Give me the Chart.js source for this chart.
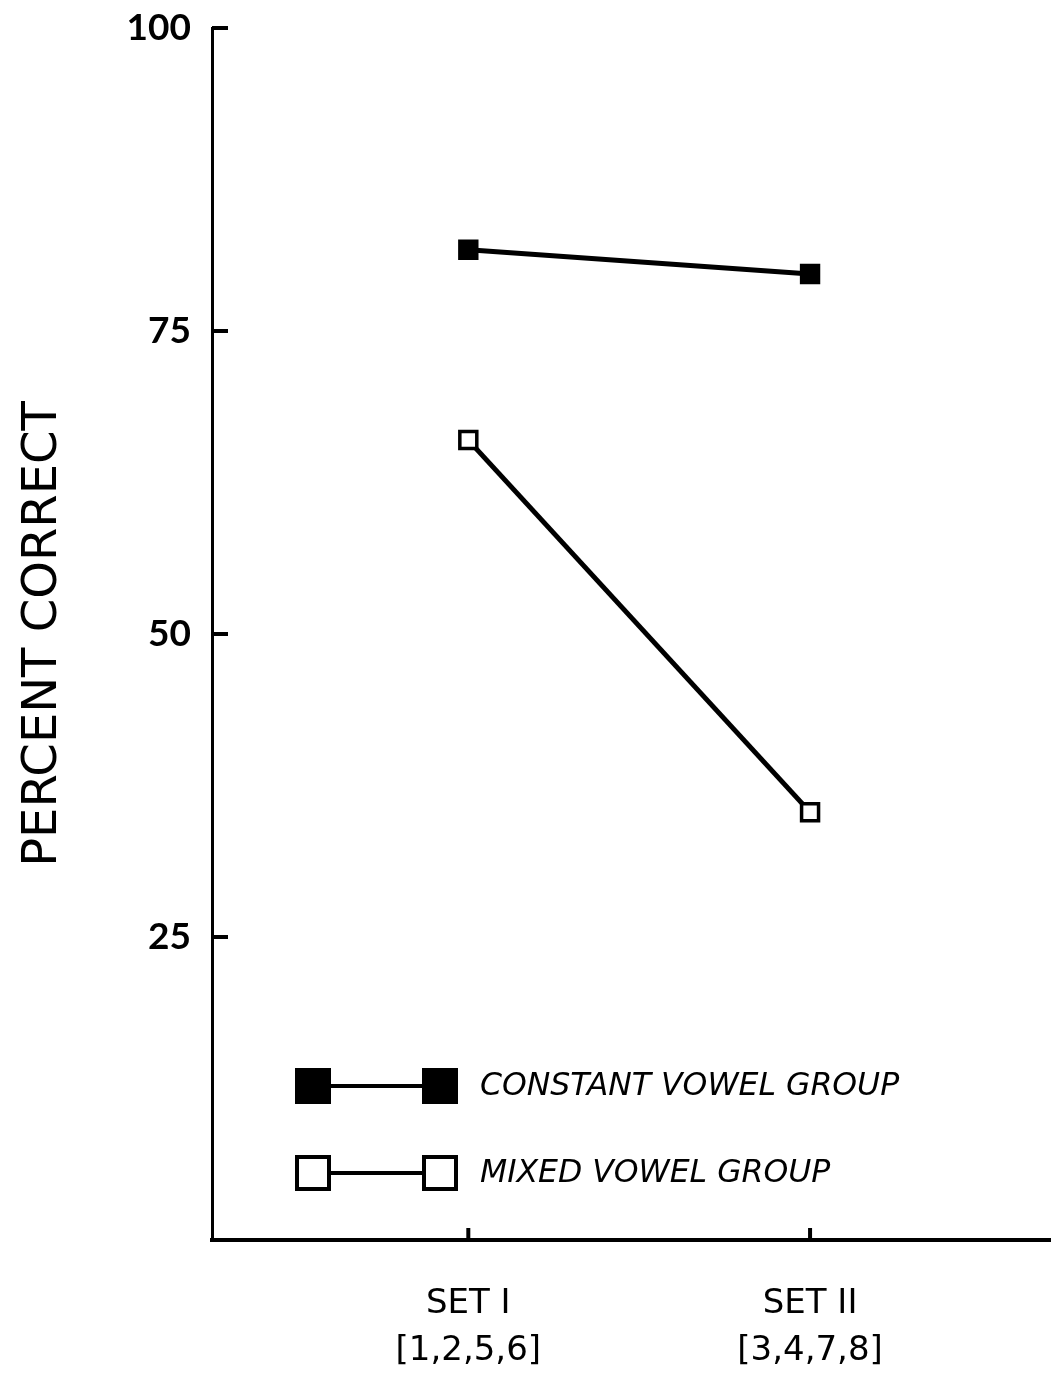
<!DOCTYPE html>
<html>
<head>
<meta charset="utf-8">
<script src="https://cdn.jsdelivr.net/npm/chart.js@4.4.1/dist/chart.umd.min.js"></script>
<style>
    html, body { margin: 0; padding: 0; background: #fff; }
</style>
</head>
<body>
<canvas id="chart" width="1051" height="1377"></canvas>
<script>
// Values
const categories = [['SET I', '[1,2,5,6]'], ['SET II', '[3,4,7,8]']];
const constantVowel = [81.7, 79.7];
const mixedVowel = [66.0, 35.3];
const yTicks = [25, 50, 75, 100];
const seriesLabels = ['CONSTANT VOWEL GROUP', 'MIXED VOWEL GROUP'];

const TEXT_FONT = '"DejaVu Sans", sans-serif';
const NUM_FONT = 'Lato, "Open Sans", sans-serif';

function toPoints(values) {
    return values.map((v, i) => ({ x: i + 1, y: v }));
}

// Tick marks in the figure point into the plot, so draw them ourselves
const innerTicks = {
    id: 'innerTicks',
    afterDraw(chart) {
        const ctx = chart.ctx;
        const x = chart.scales.x, y = chart.scales.y;
        ctx.save();
        ctx.strokeStyle = '#000';
        ctx.lineWidth = 4;
        ctx.beginPath();
        yTicks.forEach(t => {
            const py = y.getPixelForValue(t);
            ctx.moveTo(x.left, py);
            ctx.lineTo(x.left + 16, py);
        });
        categories.forEach((c, i) => {
            const px = x.getPixelForValue(i + 1);
            ctx.moveTo(px, y.bottom);
            ctx.lineTo(px, y.bottom - 12);
        });
        ctx.stroke();
        ctx.restore();
    }
};

// Legend: marker - line - marker, then the label
const pairLegend = {
    id: 'pairLegend',
    afterDraw(chart, args, opts) {
        const ctx = chart.ctx;
        const s = opts.size;
        ctx.save();
        chart.data.datasets.forEach((ds, i) => {
            const cy = opts.top + i * opts.rowGap;
            const x1 = opts.left, x2 = opts.left + opts.span;
            ctx.strokeStyle = '#000';
            ctx.lineWidth = 4;
            ctx.beginPath();
            ctx.moveTo(x1, cy);
            ctx.lineTo(x2, cy);
            ctx.stroke();
            [x1, x2].forEach(cx => {
                ctx.fillStyle = ds.pointBackgroundColor;
                ctx.lineWidth = 4;
                ctx.fillRect(cx - s / 2, cy - s / 2, s, s);
                ctx.strokeRect(cx - s / 2, cy - s / 2, s, s);
            });
            ctx.fillStyle = '#000';
            ctx.font = 'italic 31.5px ' + TEXT_FONT;
            ctx.textBaseline = 'middle';
            ctx.fillText(ds.label, opts.textX, cy + 1);
        });
        ctx.restore();
    }
};

new Chart(document.getElementById('chart'), {
    type: 'line',
    data: {
        datasets: [{
            label: seriesLabels[0],
            data: toPoints(constantVowel),
            borderColor: '#000',
            borderWidth: 5,
            pointStyle: 'rect',
            pointRadius: 13,
            pointBackgroundColor: '#000',
            pointBorderColor: '#000',
            pointBorderWidth: 2
        }, {
            label: seriesLabels[1],
            data: toPoints(mixedVowel),
            borderColor: '#000',
            borderWidth: 5,
            pointStyle: 'rect',
            pointRadius: 12,
            pointBackgroundColor: '#fff',
            pointBorderColor: '#000',
            pointBorderWidth: 3.5
        }]
    },
    options: {
        responsive: false,
        animation: false,
        layout: { autoPadding: false, padding: { top: 28, right: 0, left: 0, bottom: 0 } },
        plugins: {
            legend: { display: false },
            tooltip: { enabled: false },
            pairLegend: { top: 1086, rowGap: 87, left: 313, span: 127, size: 32, textX: 480 }
        },
        scales: {
            x: {
                type: 'linear',
                min: 0.25,
                max: 2.705,
                afterBuildTicks: s => { s.ticks = categories.map((c, i) => ({ value: i + 1 })); },
                afterFit: s => { s.height = 137; s.paddingLeft = 0; s.paddingRight = 0; },
                grid: { display: false, drawTicks: false },
                border: { display: true, color: '#000', width: 4 },
                ticks: {
                    color: '#000',
                    font: { family: TEXT_FONT, size: 34, lineHeight: 1.38 },
                    padding: 41,
                    maxRotation: 0,
                    autoSkip: false,
                    callback: v => categories[v - 1]
                }
            },
            y: {
                min: 0,
                max: 100,
                afterBuildTicks: s => { s.ticks = yTicks.map(v => ({ value: v })); },
                afterFit: s => { s.width = 212; s.paddingTop = 0; s.paddingBottom = 0; },
                grid: { display: false, drawTicks: false },
                border: { display: true, color: '#000', width: 3 },
                ticks: {
                    color: '#000',
                    font: { family: NUM_FONT, size: 37, weight: 'bold' },
                    padding: 21
                },
                title: {
                    display: true,
                    text: 'PERCENT CORRECT',
                    color: '#000',
                    font: { family: TEXT_FONT, size: 48 },
                    padding: { top: 15, bottom: 0 }
                }
            }
        }
    },
    plugins: [innerTicks, pairLegend]
});
</script>
</body>
</html>
